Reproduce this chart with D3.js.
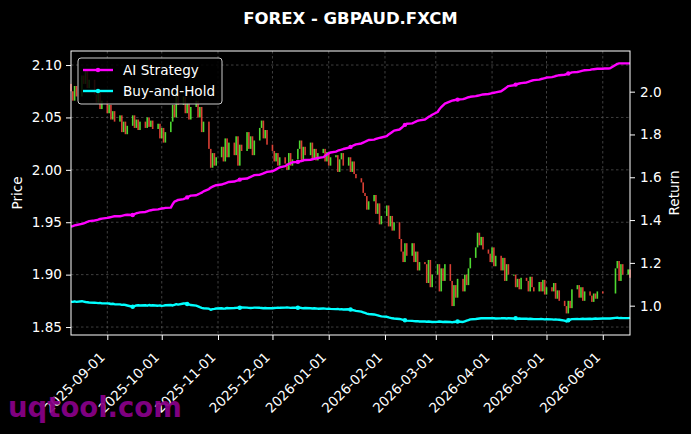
<!DOCTYPE html>
<html>
<head>
<meta charset="utf-8">
<script src="https://cdn.jsdelivr.net/npm/d3@7"></script>
<style>
  body { margin: 0; background: #000; }
  svg { display: block; font-family: "DejaVu Sans", sans-serif; }
</style>
</head>
<body>
<div class="chart"></div>
<script>
const WIDTH = 691;
const HEIGHT = 434;
const MARGIN = { top: 51, right: 61, bottom: 99, left: 71 };
const INNER_WIDTH = WIDTH - MARGIN.left - MARGIN.right;
const INNER_HEIGHT = HEIGHT - MARGIN.top - MARGIN.bottom;

// weekday trading sessions, 2025-08-12 .. 2026-06-16
var firstDay = new Date(2025, 7, 12);
var lastDay = new Date(2026, 5, 16);
var days = d3.timeDay.range(firstDay, d3.timeDay.offset(lastDay, 1)).filter(function (d) {
    return d.getDay() !== 0 && d.getDay() !== 6;
});

var firstOpen = 2.082;
// daily closes, one row per week (null = no session)
var closes = [
    2.075, 2.066, 2.080, 2.070,
    2.090, 2.082, 2.096, 2.078, 2.086,
    2.072, 2.064, 2.074, 2.058, 2.066,
    2.054, 2.062, 2.048, 2.056, 2.046,
    2.052, 2.036, 2.046, 2.034, 2.042,
    2.052, 2.040, 2.048, 2.038, 2.046,
    2.040, 2.050, 2.041, 2.047, 2.039,
    2.044, 2.030, 2.040, 2.026, 2.036,
    2.046, 2.062, 2.050, 2.074, 2.062,
    2.070, 2.054, 2.064, 2.048, 2.060,
    2.066, 2.050, 2.060, 2.036, 2.046,
    2.020, 2.002, 2.016, 2.004, 2.012,
    2.022, 2.008, 2.030, 2.012, 2.026,
    2.014, 2.032, 2.004, 2.024, 2.018,
    2.036, 2.020, 2.032, 2.014, 2.028,
    2.040, 2.047, 2.030, 2.038, 2.024,
    2.018, 2.008, 2.016, 2.004, 2.012,
    2.006, 2.000, 2.016, 2.004, 2.010,
    2.020, 2.028, 2.008, 2.022, 2.014,
    2.026, 2.010, 2.020, 2.009, 2.016,
    2.020, 2.008, 2.017, 2.004, 2.012,
    2.014, 1.998, 2.010, 2.016, 2.004,
    2.012, 1.998, 2.008, 1.996, 1.992,
    1.988, 1.978, 1.975, 1.962, 1.970,
    1.976, 1.958, 1.968, 1.948, 1.956,
    1.966, 1.946, 1.956, 1.942, 1.950,
    1.934, 1.922, 1.912, 1.930, 1.918,
    1.930, 1.912, 1.922, 1.904, 1.912,
    1.910, 1.892, 1.914, 1.888, 1.900,
    1.910, 1.884, 1.906, 1.894, 1.910,
    1.894, 1.870, 1.890, 1.878, 1.896,
    1.884, 1.900, 1.890, 1.906, 1.916,
    1.926, 1.940, 1.928, 1.936, 1.924,
    1.920, 1.912, 1.926, 1.908, 1.918,
    1.904, 1.916, 1.894, 1.910, 1.900,
    1.900, 1.888, 1.896, 1.886, 1.897,
    1.894, 1.884, 1.898, 1.888, 1.884,
    1.893, 1.884, 1.895, 1.881, 1.888,
    1.884, 1.892, 1.877, 1.885, 1.875,
    1.870, 1.863, 1.875, 1.868, 1.886,
    1.890, 1.878, 1.888, 1.875, 1.884,
    1.880, 1.874, 1.882, 1.877, 1.884,
    1.882, null, null, null, null,
    1.906, 1.913, 1.894, 1.910, 1.900,
    1.905, 1.897
];

var aiStrategy = [
    1.370, 1.372, 1.375, 1.377,
    1.382, 1.385, 1.388, 1.392, 1.395,
    1.398, 1.400, 1.402, 1.405, 1.407,
    1.410, 1.412, 1.414, 1.416, 1.418,
    1.418, 1.420, 1.422, 1.424, 1.425,
    1.424, 1.428, 1.432, 1.434, 1.436,
    1.438, 1.441, 1.444, 1.446, 1.448,
    1.450, 1.452, 1.454, 1.455, 1.457,
    1.458, 1.474, 1.486, 1.490, 1.494,
    1.498, 1.502, 1.506, 1.510, 1.514,
    1.516, 1.520, 1.524, 1.528, 1.534,
    1.545, 1.552, 1.556, 1.560, 1.563,
    1.566, 1.569, 1.572, 1.575, 1.578,
    1.580, 1.583, 1.586, 1.589, 1.592,
    1.594, 1.598, 1.602, 1.606, 1.610,
    1.612, 1.615, 1.618, 1.622, 1.625,
    1.628, 1.632, 1.637, 1.642, 1.646,
    1.652, 1.658, 1.662, 1.666, 1.670,
    1.672, 1.674, 1.676, 1.679, 1.681,
    1.682, 1.684, 1.686, 1.688, 1.690,
    1.694, 1.700, 1.706, 1.712, 1.716,
    1.720, 1.724, 1.727, 1.729, 1.732,
    1.738, 1.742, 1.746, 1.750, 1.754,
    1.758, 1.762, 1.766, 1.770, 1.774,
    1.776, 1.779, 1.782, 1.784, 1.786,
    1.792, 1.800, 1.806, 1.812, 1.818,
    1.823, 1.830, 1.838, 1.845, 1.850,
    1.852, 1.856, 1.860, 1.864, 1.866,
    1.870, 1.876, 1.882, 1.886, 1.892,
    1.905, 1.918, 1.928, 1.936, 1.944,
    1.955, 1.958, 1.960, 1.962, 1.963,
    1.965, 1.968, 1.971, 1.974, 1.976,
    1.979, 1.981, 1.983, 1.985, 1.987,
    1.989, 1.991, 1.993, 1.995, 1.997,
    2.002, 2.008, 2.014, 2.020, 2.026,
    2.030, 2.033, 2.036, 2.038, 2.040,
    2.043, 2.046, 2.049, 2.052, 2.054,
    2.056, 2.059, 2.061, 2.063, 2.066,
    2.068, 2.070, 2.073, 2.075, 2.077,
    2.079, 2.082, 2.085, 2.087, 2.090,
    2.092, 2.094, 2.096, 2.098, 2.100,
    2.102, 2.104, 2.105, 2.106, 2.107,
    2.107, 2.108, 2.108, 2.108, 2.109,
    2.125, 2.130, 2.132, 2.132, 2.132,
    2.132, 2.132
];

var buyAndHold = [
    1.019, 1.018, 1.020, 1.018,
    1.021, 1.019, 1.017, 1.016, 1.015,
    1.014, 1.013, 1.012, 1.013, 1.011,
    1.011, 1.010, 1.008, 1.009, 1.007,
    1.006, 1.004, 1.005, 1.003, 1.001,
    0.995, 0.998, 1.001, 1.002, 1.001,
    1.002, 1.000, 1.003, 1.001, 1.002,
    1.000, 1.001, 0.999, 1.000, 1.002,
    1.003, 1.001, 1.004, 1.007, 1.005,
    1.010, 1.011, 1.008, 1.006, 1.003,
    1.000, 0.997, 0.993, 0.990, 0.988,
    0.986, 0.981, 0.984, 0.985, 0.987,
    0.988, 0.986, 0.987, 0.989, 0.988,
    0.989, 0.990, 0.991, 0.990, 0.992,
    0.991, 0.990, 0.989, 0.990, 0.991,
    0.990, 0.989, 0.988, 0.989, 0.988,
    0.988, 0.989, 0.990, 0.991, 0.990,
    0.991, 0.992, 0.991, 0.990, 0.991,
    0.990, 0.991, 0.989, 0.988, 0.989,
    0.988, 0.987, 0.988, 0.987, 0.986,
    0.987, 0.986, 0.985, 0.986, 0.985,
    0.984, 0.985, 0.983, 0.984, 0.982,
    0.983, 0.982, 0.980, 0.978, 0.976,
    0.972, 0.969, 0.966, 0.963, 0.961,
    0.959, 0.957, 0.955, 0.952, 0.950,
    0.948, 0.945, 0.943, 0.941, 0.940,
    0.938, 0.936, 0.934, 0.932, 0.930,
    0.929, 0.928, 0.927, 0.928, 0.926,
    0.926, 0.925, 0.926, 0.925, 0.924,
    0.925, 0.926, 0.925, 0.924, 0.925,
    0.924, 0.922, 0.924, 0.925, 0.926,
    0.924, 0.927, 0.930, 0.933, 0.936,
    0.938, 0.939, 0.940, 0.941, 0.941,
    0.942, 0.941, 0.942, 0.941, 0.940,
    0.941, 0.942, 0.941, 0.940, 0.941,
    0.940, 0.941, 0.939, 0.940, 0.939,
    0.939, 0.938, 0.939, 0.938, 0.937,
    0.937, 0.938, 0.937, 0.936, 0.937,
    0.936, 0.935, 0.936, 0.935, 0.934,
    0.930, 0.926, 0.932, 0.935, 0.937,
    0.938, 0.937, 0.938, 0.939, 0.938,
    0.939, 0.938, 0.939, 0.940, 0.939,
    0.940, 0.940, 0.940, 0.940, 0.940,
    0.943, 0.944, 0.942, 0.943, 0.942,
    0.942, 0.943
];

var monthTicks = ['2025-09-01', '2025-10-01', '2025-11-01', '2025-12-01', '2026-01-01',
    '2026-02-01', '2026-03-01', '2026-04-01', '2026-05-01', '2026-06-01'];
var priceTicks = [1.85, 1.90, 1.95, 2.00, 2.05, 2.10];
var returnTicks = [1.0, 1.2, 1.4, 1.6, 1.8, 2.0];
var seriesNames = ['AI Strategy', 'Buy-and-Hold'];
var seriesColors = ['#ff00ff', '#00ffff'];

var parseDay = d3.timeParse('%Y-%m-%d');
var tickDates = monthTicks.map(parseDay);

var timeScale = d3.scaleTime().range([0, INNER_WIDTH]).domain([firstDay, lastDay]);
var priceScale = d3.scaleLinear().range([INNER_HEIGHT, 0]).domain([1.8424, 2.1134]);
var returnScale = d3.scaleLinear().range([INNER_HEIGHT, 0]).domain([0.863, 2.19]);

var svg = d3.select('.chart').append('svg')
    .attr('width', WIDTH)
    .attr('height', HEIGHT)
    .style('background', '#000');

var g = svg.append('g')
    .attr('transform', 'translate(' + MARGIN.left + ',' + MARGIN.top + ')');

// grid
var grid = g.append('g').attr('stroke', '#5a5a5a').attr('stroke-width', 0.7)
    .attr('stroke-dasharray', '2.5,2.5');
grid.selectAll('.vgrid').data(tickDates).enter().append('line')
    .attr('x1', function (d) { return timeScale(d); })
    .attr('x2', function (d) { return timeScale(d); })
    .attr('y1', 0).attr('y2', INNER_HEIGHT);
grid.selectAll('.hgrid').data(priceTicks).enter().append('line')
    .attr('x1', 0).attr('x2', INNER_WIDTH)
    .attr('y1', function (d) { return priceScale(d); })
    .attr('y2', function (d) { return priceScale(d); });

// candles
var candles = [];
var prevClose = firstOpen;
days.forEach(function (day, i) {
    if (closes[i] === null || closes[i] === undefined) return;
    candles.push({ day: day, open: prevClose, close: closes[i] });
    prevClose = closes[i];
});

g.append('g').selectAll('rect').data(candles).enter().append('rect')
    .attr('x', function (d) { return timeScale(d.day) - 0.8; })
    .attr('width', 1.6)
    .attr('y', function (d) { return priceScale(Math.max(d.open, d.close)); })
    .attr('height', function (d) {
        return Math.max(1, Math.abs(priceScale(d.open) - priceScale(d.close)));
    })
    .attr('fill', function (d) { return d.close >= d.open ? '#5cff3a' : '#ff4a3d'; })
    .attr('opacity', 0.85);

// return lines
var returnLine = d3.line()
    .x(function (d, i) { return timeScale(days[i]); })
    .y(function (d) { return returnScale(d); });

var markIdx = d3.range(0, 9).map(function (k) { return Math.round(24 + k * 21.5); });

[aiStrategy, buyAndHold].forEach(function (series, s) {
    g.append('path')
        .attr('d', returnLine(series))
        .attr('fill', 'none')
        .attr('stroke', seriesColors[s])
        .attr('stroke-width', 2.4)
        .attr('stroke-linejoin', 'round');
    g.append('g').selectAll('circle').data(markIdx).enter().append('circle')
        .attr('cx', function (i) { return timeScale(days[i]); })
        .attr('cy', function (i) { return returnScale(series[i]); })
        .attr('r', 2.2)
        .attr('fill', seriesColors[s]);
});

// frame
g.append('rect')
    .attr('width', INNER_WIDTH).attr('height', INNER_HEIGHT)
    .attr('fill', 'none').attr('stroke', '#fff').attr('stroke-width', 1);

function styleAxis(sel) {
    sel.select('.domain').remove();
    sel.selectAll('line').attr('stroke', '#fff');
    sel.selectAll('text').attr('fill', '#fff').style('font-size', '13.6px')
        .style('font-family', '"DejaVu Sans", sans-serif');
}

var xAxisG = g.append('g').attr('transform', 'translate(0,' + INNER_HEIGHT + ')')
    .call(d3.axisBottom(timeScale).tickValues(tickDates).tickSize(5)
        .tickFormat(d3.timeFormat('%Y-%m-%d')));
styleAxis(xAxisG);
xAxisG.selectAll('text')
    .attr('x', 0).attr('y', 0).attr('dy', 0)
    .attr('text-anchor', 'end')
    .attr('transform', 'translate(-2,23) rotate(-45)');

var yAxisG = g.append('g')
    .call(d3.axisLeft(priceScale).tickValues(priceTicks).tickSize(5).tickPadding(4)
        .tickFormat(d3.format('.2f')));
styleAxis(yAxisG);

var y2AxisG = g.append('g').attr('transform', 'translate(' + INNER_WIDTH + ',0)')
    .call(d3.axisRight(returnScale).tickValues(returnTicks).tickSize(5).tickPadding(5)
        .tickFormat(d3.format('.1f')));
styleAxis(y2AxisG);

// axis titles
svg.append('text')
    .attr('transform', 'translate(22,' + (MARGIN.top + INNER_HEIGHT / 2) + ') rotate(-90)')
    .attr('text-anchor', 'middle')
    .attr('fill', '#fff').style('font-size', '13.6px')
    .text('Price');
svg.append('text')
    .attr('transform', 'translate(679,' + (MARGIN.top + INNER_HEIGHT / 2) + ') rotate(-90)')
    .attr('text-anchor', 'middle')
    .attr('fill', '#fff').style('font-size', '13.6px')
    .text('Return');

// title
svg.append('text')
    .attr('x', MARGIN.left + INNER_WIDTH / 2).attr('y', 24)
    .attr('text-anchor', 'middle')
    .attr('fill', '#fff').style('font-size', '16.5px').style('font-weight', 'bold')
    .text('FOREX - GBPAUD.FXCM');

// legend
var legend = g.append('g').attr('transform', 'translate(7,7)');
legend.append('rect')
    .attr('width', 144).attr('height', 46).attr('rx', 3)
    .attr('fill', '#000').attr('fill-opacity', 0.85)
    .attr('stroke', '#cccccc').attr('stroke-width', 1);
seriesNames.forEach(function (name, i) {
    var row = legend.append('g').attr('transform', 'translate(0,' + (12 + i * 21) + ')');
    row.append('line').attr('x1', 5).attr('x2', 35)
        .attr('stroke', seriesColors[i]).attr('stroke-width', 2.4);
    row.append('circle').attr('cx', 20).attr('r', 2.2).attr('fill', seriesColors[i]);
    row.append('text').attr('x', 45).attr('dy', '0.35em')
        .attr('fill', '#fff').style('font-size', '13.6px')
        .text(name);
});

// watermark
svg.append('text')
    .attr('x', 8).attr('y', 417)
    .attr('fill', '#880088').attr('fill-opacity', 0.95)
    .style('font-size', '27.5px').style('font-weight', 'bold')
    .text('uqtool.com');
</script>
</body>
</html>
